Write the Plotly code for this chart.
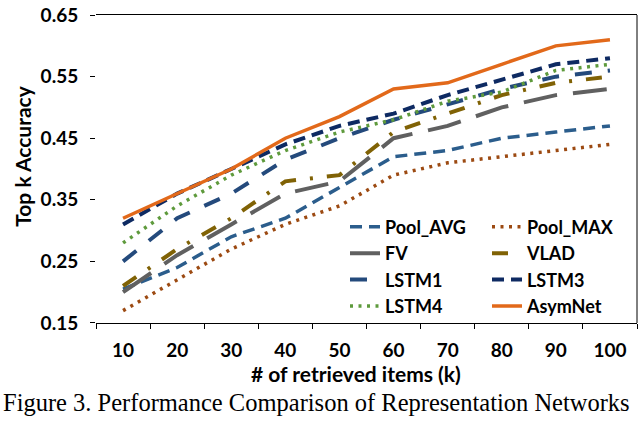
import plotly.graph_objects as go

# ---- data ----
k_values = ["10", "20", "30", "40", "50", "60", "70", "80", "90", "100"]
pool_avg = [0.205, 0.24, 0.29, 0.32, 0.37, 0.42, 0.43, 0.45, 0.46, 0.47]
pool_max = [0.17, 0.22, 0.27, 0.31, 0.34, 0.39, 0.41, 0.42, 0.43, 0.44]
fv = [0.20, 0.26, 0.31, 0.36, 0.38, 0.45, 0.47, 0.50, 0.52, 0.53]
vlad = [0.21, 0.27, 0.32, 0.38, 0.39, 0.46, 0.49, 0.52, 0.54, 0.55]
lstm1 = [0.25, 0.32, 0.36, 0.415, 0.45, 0.48, 0.505, 0.53, 0.55, 0.56]
lstm3 = [0.31, 0.36, 0.40, 0.44, 0.47, 0.49, 0.52, 0.545, 0.57, 0.58]
lstm4 = [0.28, 0.34, 0.39, 0.43, 0.46, 0.48, 0.51, 0.525, 0.56, 0.57]
asymnet = [0.32, 0.36, 0.40, 0.45, 0.485, 0.53, 0.54, 0.57, 0.60, 0.61]
y_ticks = [0.15, 0.25, 0.35, 0.45, 0.55, 0.65]

FONT = dict(family="Lato", size=19, color="black", weight="bold")
TITLE_FONT = dict(family="Lato", size=21, color="black", weight="bold")
LEG_FONT = dict(family="Lato", size=18, color="black", weight="bold")

series = [
    # name, values, color, dash, width, legend
    ("Pool_AVG", pool_avg, "#2B5D8C", "12px,7px", 3.5, "legend"),
    ("Pool_MAX", pool_max, "#9C4A12", "3px,5.5px", 3.5, "legend2"),
    ("FV", fv, "#606060", "34px,16px", 4, "legend"),
    ("VLAD", vlad, "#806205", "16px,14px,3px,14px", 4, "legend2"),
    ("LSTM1", lstm1, "#244A7C", "17px,16px", 4, "legend"),
    ("LSTM3", lstm3, "#0E2A62", "12px,7px", 4, "legend2"),
    ("LSTM4", lstm4, "#5E9A3C", "3px,5.5px", 3.5, "legend"),
    ("AsymNet", asymnet, "#E2691A", "solid", 3.5, "legend2"),
]

fig = go.Figure()
for name, vals, color, dash, width, leg in series:
    fig.add_trace(go.Scatter(
        x=k_values, y=vals, name=name, mode="lines",
        line=dict(color=color, dash=dash, width=width),
        legend=leg,
    ))

W0, W1, H0, H1 = 96, 637, 8, 323  # plot area in pixels


def px_x(p):
    return (p - W0) / (W1 - W0)


def px_y(p):
    return (H1 - p) / (H1 - H0)


fig.update_layout(
    width=640, height=421,
    margin=dict(l=W0, r=640 - W1, t=H0, b=421 - H1),
    paper_bgcolor="white", plot_bgcolor="white",
    font=FONT,
    showlegend=True,
    legend=dict(x=px_x(345), y=px_y(206), xanchor="left", yanchor="top",
                bgcolor="rgba(0,0,0,0)", font=LEG_FONT, tracegroupgap=0),
    legend2=dict(x=px_x(487), y=px_y(206), xanchor="left", yanchor="top",
                 bgcolor="rgba(0,0,0,0)", font=LEG_FONT, tracegroupgap=0),
    xaxis=dict(type="category", range=[-0.5, 9.5], tickson="boundaries",
               ticks="outside", ticklen=5, tickcolor="black", tickwidth=1,
               showline=True, linecolor="black", linewidth=1, mirror=True,
               showgrid=False, tickfont=FONT, ticklabelstandoff=10),
    yaxis=dict(range=[0.1499, 0.6501], tickvals=y_ticks,
               ticktext=[f"{v:.2f}" for v in y_ticks],
               ticks="outside", ticklen=5, tickcolor="black", tickwidth=1,
               showline=False, showgrid=False, zeroline=False,
               tickfont=FONT, ticklabelstandoff=8, ticklabeloverflow="allow"),
    shapes=[dict(type="line", xref="paper", yref="paper", x0=1, x1=1, y0=0, y1=1,
                 line=dict(color="black", width=1))],
    annotations=[
        dict(text="Top k Accuracy", textangle=-90, xref="paper", yref="paper",
             x=px_x(23), y=px_y(153), xanchor="center", yanchor="middle",
             showarrow=False, font=TITLE_FONT),
        dict(text="# of retrieved items (k)", xref="paper", yref="paper",
             x=px_x(356), y=px_y(375), xanchor="center", yanchor="middle",
             showarrow=False, font=TITLE_FONT),
        dict(text="Figure 3. Performance Comparison of Representation Networks",
             xref="paper", yref="paper", x=px_x(316), y=px_y(404),
             xanchor="center", yanchor="middle", showarrow=False,
             font=dict(family="Liberation Serif", size=24.5, color="black",
                       weight="normal")),
    ],
)

fig.write_html("out.html", config={"displayModeBar": False},
               post_script="document.body.style.margin='0';")
